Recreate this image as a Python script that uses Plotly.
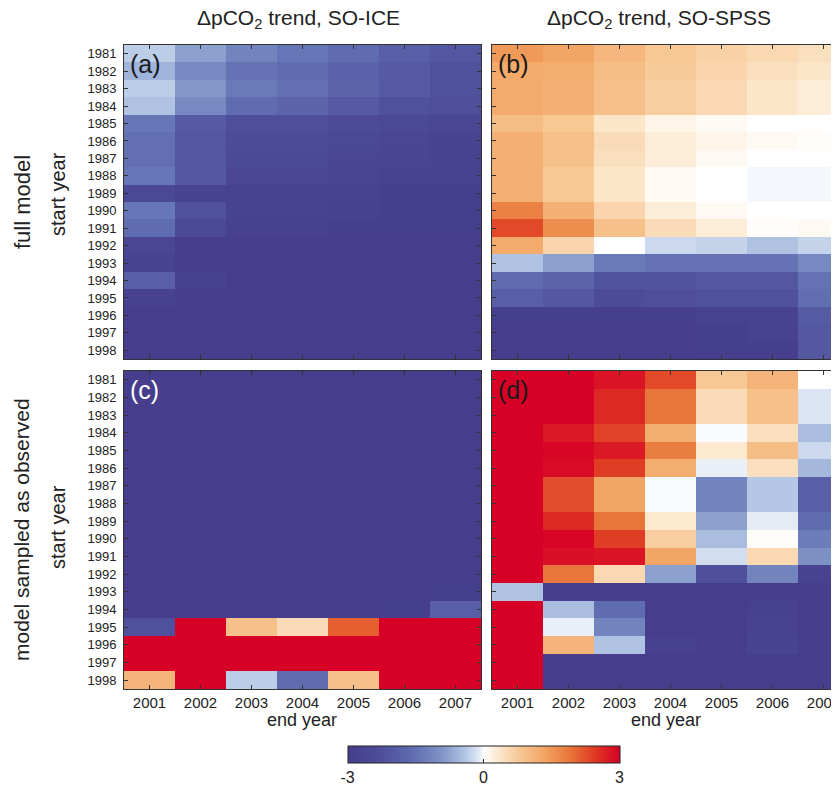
import plotly.graph_objects as go

start_years = list(range(1981, 1999))
end_years = list(range(2001, 2008))

# (a) full model, SO-ICE
z_a = [
    [-0.35, -0.8, -1.2, -1.4, -1.6, -1.9, -2.1],
    [-0.6, -1.1, -1.45, -1.6, -1.8, -2.0, -2.2],
    [-0.35, -0.9, -1.35, -1.5, -1.75, -2.0, -2.2],
    [-0.45, -1.1, -1.6, -1.75, -2.0, -2.2, -2.3],
    [-1.4, -2.0, -2.3, -2.3, -2.4, -2.55, -2.6],
    [-1.5, -2.1, -2.35, -2.4, -2.5, -2.6, -2.7],
    [-1.5, -2.1, -2.45, -2.5, -2.6, -2.65, -2.75],
    [-1.4, -2.1, -2.6, -2.6, -2.65, -2.75, -2.8],
    [-2.5, -2.7, -2.8, -2.8, -2.8, -2.9, -2.9],
    [-1.4, -2.2, -2.75, -2.75, -2.85, -2.9, -2.9],
    [-1.6, -2.5, -2.85, -2.85, -2.9, -2.9, -2.9],
    [-2.6, -2.95, -2.95, -2.95, -2.95, -2.95, -2.95],
    [-2.8, -2.95, -2.95, -2.95, -2.95, -2.95, -2.95],
    [-1.9, -2.85, -2.95, -2.95, -2.95, -2.95, -2.95],
    [-2.85, -2.95, -2.95, -2.95, -2.95, -2.95, -2.95],
    [-2.95, -2.95, -2.95, -2.95, -2.95, -2.95, -2.95],
    [-2.95, -2.95, -2.95, -2.95, -2.95, -2.95, -2.95],
    [-2.95, -2.95, -2.95, -2.95, -2.95, -2.95, -2.95],
]

# (b) full model, SO-SPSS
z_b = [
    [1.45, 1.3, 1.05, 0.8, 0.65, 0.55, 0.45],
    [1.25, 1.2, 0.95, 0.75, 0.6, 0.45, 0.35],
    [1.25, 1.15, 0.9, 0.7, 0.55, 0.35, 0.25],
    [1.25, 1.15, 0.9, 0.7, 0.55, 0.35, 0.25],
    [0.95, 0.8, 0.35, 0.15, 0.08, 0.0, 0.0],
    [1.15, 0.9, 0.5, 0.25, 0.15, 0.08, 0.04],
    [1.15, 0.9, 0.45, 0.25, 0.08, 0.0, 0.0],
    [1.15, 0.8, 0.35, 0.08, 0.0, -0.04, -0.04],
    [1.15, 0.8, 0.35, 0.08, 0.0, -0.04, -0.04],
    [1.75, 1.15, 0.6, 0.25, 0.08, 0.0, 0.0],
    [2.3, 1.6, 0.9, 0.5, 0.25, 0.04, 0.08],
    [1.25, 0.6, 0.0, -0.25, -0.3, -0.45, -0.3],
    [-0.45, -0.8, -1.35, -1.45, -1.45, -1.45, -1.1],
    [-1.6, -1.75, -2.15, -2.15, -2.05, -2.05, -1.45],
    [-1.9, -2.05, -2.35, -2.3, -2.2, -2.2, -1.55],
    [-2.9, -2.9, -2.9, -2.9, -2.75, -2.75, -1.95],
    [-2.95, -2.95, -2.95, -2.95, -2.9, -2.8, -2.05],
    [-2.95, -2.95, -2.95, -2.95, -2.9, -2.9, -2.05],
]

# (c) sampled as observed, SO-ICE
z_c = [
    [-2.95, -2.95, -2.95, -2.95, -2.95, -2.95, -2.95],
    [-2.95, -2.95, -2.95, -2.95, -2.95, -2.95, -2.95],
    [-2.95, -2.95, -2.95, -2.95, -2.95, -2.95, -2.95],
    [-2.95, -2.95, -2.95, -2.95, -2.95, -2.95, -2.95],
    [-2.95, -2.95, -2.95, -2.95, -2.95, -2.95, -2.95],
    [-2.95, -2.95, -2.95, -2.95, -2.95, -2.95, -2.95],
    [-2.95, -2.95, -2.95, -2.95, -2.95, -2.95, -2.95],
    [-2.95, -2.95, -2.95, -2.95, -2.95, -2.95, -2.95],
    [-2.95, -2.95, -2.95, -2.95, -2.95, -2.95, -2.95],
    [-2.95, -2.95, -2.95, -2.95, -2.95, -2.95, -2.95],
    [-2.95, -2.95, -2.95, -2.95, -2.95, -2.95, -2.95],
    [-2.95, -2.95, -2.95, -2.95, -2.95, -2.95, -2.95],
    [-2.95, -2.95, -2.95, -2.95, -2.95, -2.95, -2.9],
    [-2.95, -2.95, -2.95, -2.95, -2.95, -2.9, -1.9],
    [-2.2, 3.0, 0.9, 0.5, 2.1, 3.0, 3.0],
    [3.0, 3.0, 3.0, 3.0, 3.0, 3.0, 3.0],
    [3.0, 3.0, 3.0, 3.0, 3.0, 3.0, 3.0],
    [1.1, 3.0, -0.35, -1.6, 0.9, 3.0, 3.0],
]

# (d) sampled as observed, SO-SPSS
z_d = [
    [3.0, 3.0, 2.8, 2.3, 0.8, 1.1, 0.0],
    [3.0, 3.0, 2.6, 1.9, 0.5, 0.9, -0.15],
    [3.0, 3.0, 2.6, 1.9, 0.5, 0.9, -0.15],
    [3.0, 2.75, 2.35, 1.2, -0.02, 0.45, -0.5],
    [3.0, 2.95, 2.75, 1.8, 0.3, 0.95, -0.25],
    [3.0, 2.9, 2.4, 1.2, -0.08, 0.45, -0.55],
    [3.0, 2.25, 1.3, -0.02, -1.2, -0.4, -1.9],
    [3.0, 2.25, 1.3, -0.02, -1.2, -0.4, -1.9],
    [3.0, 2.6, 1.9, 0.3, -0.8, -0.1, -1.6],
    [3.0, 2.95, 2.4, 0.7, -0.5, 0.03, -1.3],
    [3.0, 2.85, 2.8, 1.3, -0.2, 0.55, -1.0],
    [3.0, 1.9, 0.55, -0.8, -2.3, -1.2, -2.8],
    [-0.45, -2.95, -2.95, -2.95, -2.95, -2.95, -2.95],
    [3.0, -0.5, -1.6, -2.95, -2.95, -2.85, -2.95],
    [3.0, -0.08, -1.2, -2.95, -2.95, -2.8, -2.95],
    [3.0, 1.1, -0.45, -2.85, -2.95, -2.7, -2.95],
    [3.0, -2.95, -2.95, -2.95, -2.95, -2.95, -2.95],
    [3.0, -2.95, -2.95, -2.95, -2.95, -2.95, -2.95],
]

col_titles = ["ΔpCO<sub>2</sub> trend, SO-ICE", "ΔpCO<sub>2</sub> trend, SO-SPSS"]
row_titles = ["full model", "model sampled as observed"]
panel_labels = ["(a)", "(b)", "(c)", "(d)"]
cbar_ticks = [-3, 0, 3]

# page has an 8px body margin; the figure is sized so it fills the window
OFF = 8
W, H = 839 - OFF, 786 - OFF
FONT = "Liberation Sans, Arial, Helvetica, sans-serif"
LINE = "#333333"
TXT = "#222222"

colorscale = [
    [0.0, "rgb(69,61,140)"],
    [0.12, "rgb(78,78,154)"],
    [0.25, "rgb(98,112,178)"],
    [0.35, "rgb(130,150,200)"],
    [0.43, "rgb(178,197,228)"],
    [0.48, "rgb(222,231,243)"],
    [0.5, "rgb(255,255,255)"],
    [0.55, "rgb(252,233,208)"],
    [0.63, "rgb(247,200,150)"],
    [0.72, "rgb(242,165,100)"],
    [0.82, "rgb(232,115,55)"],
    [0.91, "rgb(222,55,35)"],
    [1.0, "rgb(215,0,38)"],
]

def px_x(p):
    return (p - OFF) / W

def px_y(p):
    return 1 - (p - OFF) / H

x_dom = [[px_x(124), px_x(481)], [px_x(492), 1.0]]
y_dom = [[px_y(359), px_y(45)], [px_y(689), px_y(371)]]
col_w = (481 - 124) / 7.0
right_span = (839 - 492) / col_w

fig = go.Figure()
zs = [z_a, z_b, z_c, z_d]
for i, z in enumerate(zs):
    n = "" if i == 0 else str(i + 1)
    fig.add_trace(go.Heatmap(
        z=z, x=end_years, y=start_years,
        coloraxis="coloraxis", xaxis="x" + n, yaxis="y" + n,
    ))

layout = dict(
    width=W, height=H,
    margin=dict(l=0, r=0, t=0, b=0, autoexpand=False),
    paper_bgcolor="white", plot_bgcolor="white",
    font=dict(family=FONT, size=13, color=TXT),
    showlegend=False,
    coloraxis=dict(
        cmin=-3, cmax=3, colorscale=colorscale,
        colorbar=dict(
            orientation="h",
            x=px_x(483.5), xanchor="center",
            y=px_y(746), yanchor="top",
            xpad=0, ypad=0,
            len=272, lenmode="pixels",
            thickness=17, thicknessmode="pixels",
            outlinewidth=1, outlinecolor=TXT,
            tickvals=cbar_ticks, ticktext=[str(t) for t in cbar_ticks],
            ticks="inside", ticklen=4, tickcolor=TXT,
            tickfont=dict(family=FONT, size=16, color=TXT),
        ),
    ),
)

for i in range(4):
    r, c = divmod(i, 2)
    n = "" if i == 0 else str(i + 1)
    xr = [2000.5, 2007.5] if c == 0 else [2000.5, 2000.5 + right_span]
    layout["xaxis" + n] = dict(
        domain=x_dom[c], anchor="y" + n, range=xr,
        tickmode="array", tickvals=end_years,
        ticktext=[str(v) for v in end_years],
        showticklabels=(r == 1),
        ticklabeloverflow="allow",
        ticks="inside", ticklen=4, tickcolor=LINE,
        showline=True, linecolor=LINE, linewidth=1, mirror="ticks",
        showgrid=False, zeroline=False,
        tickfont=dict(size=15),
    )
    layout["yaxis" + n] = dict(
        domain=y_dom[r], anchor="x" + n, range=[1998.5, 1980.5],
        tickmode="array", tickvals=start_years,
        ticktext=[str(v) for v in start_years],
        showticklabels=(c == 0),
        ticklabelstandoff=4,
        ticks="inside", ticklen=4, tickcolor=LINE,
        showline=True, linecolor=LINE, linewidth=1,
        mirror="ticks" if c == 0 else False,
        showgrid=False, zeroline=False,
        tickfont=dict(size=13),
    )

fig.update_layout(**layout)

ann = []
# column titles
ann.append(dict(text=col_titles[0], x=px_x(298), y=px_y(19), xref="paper", yref="paper",
                showarrow=False, font=dict(size=21), xanchor="center", yanchor="middle"))
ann.append(dict(text=col_titles[1], x=px_x(659), y=px_y(19), xref="paper", yref="paper",
                showarrow=False, font=dict(size=21), xanchor="center", yanchor="middle"))
# row titles
ann.append(dict(text=row_titles[0], x=px_x(22), y=px_y(202), xref="paper", yref="paper",
                showarrow=False, font=dict(size=22), textangle=-90,
                xanchor="center", yanchor="middle"))
ann.append(dict(text=row_titles[1], x=px_x(21), y=px_y(530), xref="paper", yref="paper",
                showarrow=False, font=dict(size=21), textangle=-90,
                xanchor="center", yanchor="middle"))
# start year labels
for yc in (194, 527):
    ann.append(dict(text="start year", x=px_x(58), y=px_y(yc), xref="paper", yref="paper",
                    showarrow=False, font=dict(size=20), textangle=-90,
                    xanchor="center", yanchor="middle"))
# end year labels
for xc in (302, 666):
    ann.append(dict(text="end year", x=px_x(xc), y=px_y(720), xref="paper", yref="paper",
                    showarrow=False, font=dict(size=18),
                    xanchor="center", yanchor="middle"))
# panel labels
for i, lab in enumerate(panel_labels):
    n = "" if i == 0 else str(i + 1)
    ann.append(dict(text=lab, x=0.012, y=0.99, xref="x" + n + " domain", yref="y" + n + " domain",
                    showarrow=False, xanchor="left", yanchor="top",
                    font=dict(size=25, color="white" if i == 2 else "#1a1a1a")))

fig.update_layout(annotations=ann)
fig.write_html("out.html")
